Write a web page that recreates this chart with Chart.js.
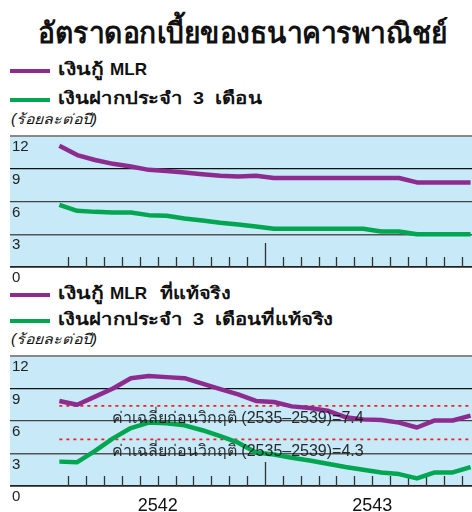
<!DOCTYPE html>
<html><head><meta charset="utf-8">
<script src="https://cdn.jsdelivr.net/npm/chart.js@4.4.1/dist/chart.umd.min.js"></script>
<style>
html,body{margin:0;padding:0;background:#fff;}
body{width:472px;height:512px;overflow:hidden;position:relative;font-family:"Liberation Sans",Arial,sans-serif;color:#111;}
.t{position:absolute;white-space:nowrap;transform-origin:0 50%;}
#title{top:13px;font-size:29px;font-weight:bold;line-height:40px;}
.sw{position:absolute;left:10px;width:40px;height:4px;}
.lg{font-size:17px;font-weight:bold;line-height:22px;}
.unit{font-size:14px;font-style:italic;line-height:18px;}
.wrap{position:absolute;left:0;width:472px;}
</style></head>
<body>
<div id="title" class="t fit" data-x="38" data-w="410">อัตราดอกเบี้ยของธนาคารพาณิชย์</div>

<div class="sw" style="top:69px;background:#8e2b8f"></div>
<div class="lg t fit" style="top:59px" data-x="58" data-w="45">เงินกู้</div>
<div class="lg t fit" style="top:59px" data-x="110" data-w="37">MLR</div>
<div class="sw" style="top:98px;background:#00a650"></div>
<div class="lg t fit" style="top:88px" data-x="58" data-w="125">เงินฝากประจำ</div>
<div class="lg t fit" style="top:88px" data-x="193" data-w="11">3</div>
<div class="lg t fit" style="top:88px" data-x="215" data-w="47">เดือน</div>
<div class="unit t fit" style="top:110px" data-x="11" data-w="86">(ร้อยละต่อปี)</div>

<div class="sw" style="top:293px;background:#8e2b8f"></div>
<div class="lg t fit" style="top:283px" data-x="58" data-w="45">เงินกู้</div>
<div class="lg t fit" style="top:283px" data-x="110" data-w="37">MLR</div>
<div class="lg t fit" style="top:283px" data-x="160" data-w="70">ที่แท้จริง</div>
<div class="sw" style="top:319px;background:#00a650"></div>
<div class="lg t fit" style="top:309px" data-x="58" data-w="125">เงินฝากประจำ</div>
<div class="lg t fit" style="top:309px" data-x="193" data-w="11">3</div>
<div class="lg t fit" style="top:309px" data-x="215" data-w="118">เดือนที่แท้จริง</div>
<div class="unit t fit" style="top:330px" data-x="11" data-w="86">(ร้อยละต่อปี)</div>

<div class="wrap" style="top:125px;height:160px"><canvas id="c1" width="472" height="160"></canvas></div>
<div class="wrap" style="top:345px;height:167px"><canvas id="c2" width="472" height="167"></canvas></div>

<script>
// ---- data (monthly, Jan 2542 .. Dec 2543) ----
const yearLabels = ['2542', '2543'];
const yTicks = [0, 3, 6, 9, 12];
const mlrNominal = [11.1, 10.25, 9.8, 9.45, 9.2, 8.9, 8.8, 8.65, 8.5, 8.35, 8.3, 8.35,
                    8.15, 8.15, 8.15, 8.15, 8.15, 8.15, 8.15, 8.15, 7.75, 7.75, 7.75, 7.75];
const depositNominal = [5.7, 5.15, 5.05, 5.0, 5.0, 4.75, 4.7, 4.45, 4.25, 4.05, 3.9, 3.7,
                        3.5, 3.5, 3.5, 3.5, 3.5, 3.5, 3.25, 3.25, 3.0, 3.0, 3.0, 3.0];
const mlrReal = [7.85, 7.5, 8.25, 9.0, 9.95, 10.15, 10.05, 9.95, 9.45, 8.95, 8.45, 7.85,
                 7.75, 7.35, 7.2, 6.95, 6.35, 6.15, 6.1, 5.85, 5.4, 6.05, 6.05, 6.5];
const depositReal = [2.25, 2.2, 3.25, 4.4, 5.35, 5.85, 5.8, 5.6, 5.15, 4.6, 4.0, 3.1,
                     2.9, 2.6, 2.35, 2.05, 1.75, 1.5, 1.25, 1.1, 0.7, 1.25, 1.25, 1.75];
const preCrisisAvg = [7.4, 4.3];
const avgLabels = ['ค่าเฉลี่ยก่อนวิกฤติ (2535–2539)=7.4', 'ค่าเฉลี่ยก่อนวิกฤติ (2535–2539)=4.3'];

// fit text blocks to the reference widths
document.querySelectorAll('.fit').forEach(el => {
  el.style.left = el.dataset.x + 'px';
  const w = el.getBoundingClientRect().width;
  if (w > 0) el.style.transform = 'scaleX(' + (parseFloat(el.dataset.w) / w) + ')';
});

// ---- helpers ----
const PURPLE = '#8e2b8f', GREEN = '#00a650', BLUE = '#c7e9f8';
const X_MIN = -2.26, X_MAX = 23.58;
const toPts = arr => arr.map((v, i) => ({x: i + 0.5, y: v}));

const bgPlugin = {
  id: 'bg',
  beforeDraw(chart) {
    const a = chart.chartArea, c = chart.ctx;
    c.save(); c.fillStyle = BLUE; c.fillRect(a.left, a.top, a.right - a.left, a.bottom - a.top); c.restore();
  }
};
const monthTicks = {
  id: 'monthTicks',
  beforeDatasetsDraw(chart) {
    const xs = chart.scales.x, a = chart.chartArea, c = chart.ctx;
    c.save(); c.strokeStyle = '#333'; c.lineWidth = 1.3;
    for (let k = 1; k <= 23; k++) {
      const px = Math.round(xs.getPixelForValue(k)) + 0.5;
      const h = (k === 12) ? 24 : 10;
      c.beginPath(); c.moveTo(px, a.bottom); c.lineTo(px, a.bottom - h); c.stroke();
    }
    c.restore();
  }
};
const avgText = {
  id: 'avgText',
  afterDatasetsDraw(chart, args, opts) {
    if (!opts.show) return;
    const xs = chart.scales.x, ys = chart.scales.y, c = chart.ctx;
    c.save(); c.fillStyle = 'rgba(25,25,25,0.92)'; c.font = '16px "Liberation Sans", Arial, sans-serif';
    c.textAlign = 'left'; c.textBaseline = 'middle';
    const x0 = xs.getPixelForValue(3.44);
    c.fillText(avgLabels[0], x0, ys.getPixelForValue(6.2));
    c.fillText(avgLabels[1], x0, ys.getPixelForValue(3.2));
    c.restore();
  }
};

const gridColor = {0: '#222', 3: '#555', 6: '#444', 9: '#111', 12: '#888'};
const gridWidth = {0: 1.8, 3: 1.5, 6: 1.3, 9: 1.2, 12: 2};

function makeChart(id, series, opts) {
  const datasets = [
    {data: toPts(series[0]), borderColor: PURPLE, borderWidth: 4.5},
    {data: toPts(series[1]), borderColor: GREEN, borderWidth: 4.5}
  ];
  if (opts.avg) {
    preCrisisAvg.forEach(v => datasets.push({
      data: [{x: 0.5, y: v}, {x: X_MAX, y: v}], borderColor: '#ee2222', borderWidth: 1.6, borderDash: [3, 4]
    }));
  }
  datasets.forEach(d => { d.pointRadius = 0; d.tension = 0; d.fill = false; d.borderJoinStyle = 'round'; });
  return new Chart(document.getElementById(id), {
    type: 'line',
    data: {datasets},
    options: {
      responsive: false, animation: false, devicePixelRatio: 1,
      layout: {padding: {left: 10, right: 0, top: opts.top, bottom: 0}},
      plugins: {legend: {display: false}, tooltip: {enabled: false}, avgText: {show: !!opts.avg}},
      scales: {
        x: {
          type: 'linear', min: X_MIN, max: X_MAX,
          grid: {display: false, drawTicks: false}, border: {display: false},
          afterBuildTicks: s => { s.ticks = [{value: 6}, {value: 18}]; },
          afterFit: s => { s.height = opts.xh; },
          ticks: {display: !!opts.years, padding: 9, color: '#111',
                  font: {size: 18, family: '"Liberation Sans", Arial, sans-serif'},
                  callback: v => yearLabels[v === 6 ? 0 : 1]}
        },
        y: {
          min: 0, max: 12,
          afterBuildTicks: s => { s.ticks = yTicks.map(v => ({value: v})); },
          afterFit: s => { s.width = 0; },
          border: {display: false},
          grid: {drawTicks: false, color: c => gridColor[c.tick.value], lineWidth: c => gridWidth[c.tick.value]},
          ticks: {mirror: true, padding: 2, labelOffset: 11, color: '#222',
                  font: {size: 15, family: '"Liberation Sans", Arial, sans-serif'}}
        }
      }
    },
    plugins: [bgPlugin, monthTicks, avgText]
  });
}

makeChart('c1', [mlrNominal, depositNominal], {top: 9, xh: 18});
makeChart('c2', [mlrReal, depositReal], {top: 8, xh: 26, avg: true, years: true});
</script>
</body></html>
